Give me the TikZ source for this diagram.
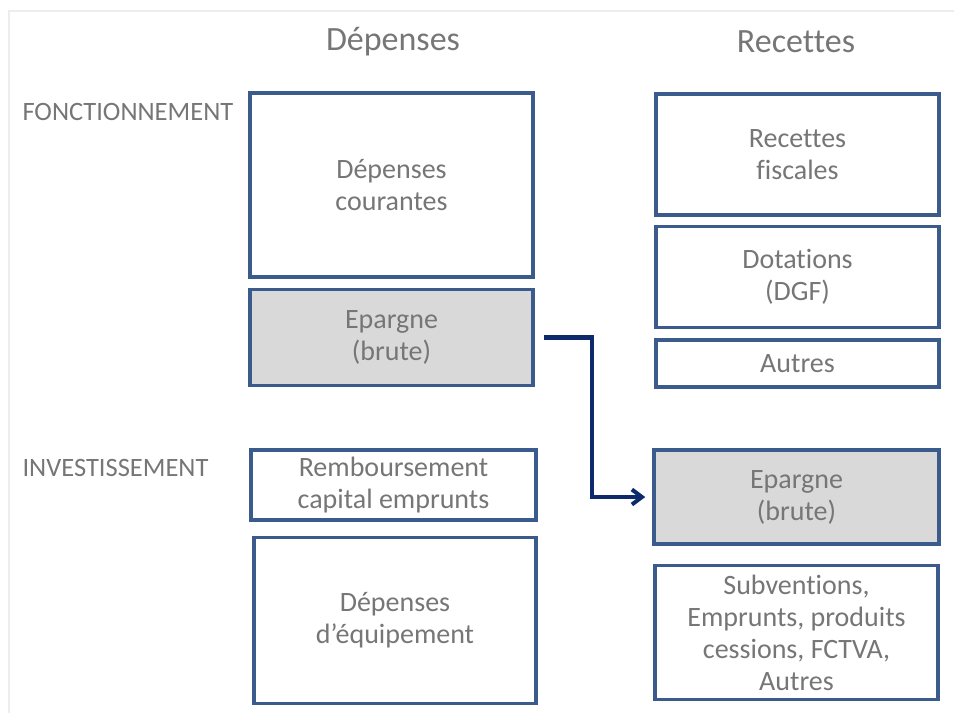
\documentclass[tikz,border=0pt]{standalone}
\usepackage{fontspec}
\setmainfont{Carlito}[Ligatures=NoCommon]
\usepackage{tikz}
\usetikzlibrary{arrows.meta,positioning}
\definecolor{bordure}{HTML}{3B5B8C}
\definecolor{fleuve}{HTML}{0D2A6B}
\definecolor{texte}{HTML}{767676}
\definecolor{grise}{HTML}{D9D9D9}

\begin{document}
\begin{tikzpicture}[
    x=1pt, y=-1pt,
    node distance=9pt,
    bloc/.style={draw=bordure, line width=3.5pt, fill=white, align=center, text=texte, font=\fontsize{28}{32}\selectfont, inner sep=0pt},
    titre/.style={text=texte, font=\fontsize{34}{40}\selectfont},
    section/.style={anchor=west, text=texte, font=\fontsize{26.5}{30}\selectfont},
    fleche/.style={-{Straight Barb[length=10pt, width=15pt, line width=4pt]}, line width=4.5pt, fleuve}
  ]
    \useasboundingbox (0,0) rectangle (954,713);
    \draw[black!7, line width=1.5pt] (9,713) -- (9,11) -- (954,11);

    \node[titre] (tdep) at (393,42) {Dépenses};
    \node[titre] (trec) at (796,42) {Recettes};
    \node[section] (sfonc) at (19,112) {FONCTIONNEMENT};
    \node[section] (sinv) at (19,468) {INVESTISSEMENT};

    % fonctionnement
    \node[bloc, minimum width=283pt, minimum height=184pt] (dc) at (391.5,185) {Dépenses\\courantes};
    \node[bloc, fill=grise, minimum width=283pt, minimum height=96pt, below=of dc] (epl) {Epargne\\(brute)};
    \node[bloc, minimum width=283pt, minimum height=121pt] (rf) at (797.5,154.5) {Recettes\\fiscales};
    \node[bloc, minimum width=283pt, minimum height=101pt, below=8pt of rf] (dot) {Dotations\\(DGF)};
    \node[bloc, minimum width=283pt, minimum height=47pt, below=of dot] (aut) {Autres};

    % investissement
    \node[bloc, minimum width=285pt, minimum height=70pt] (rmb) at (393.5,485) {Remboursement\\capital emprunts};
    \node[bloc, minimum width=282pt, minimum height=166pt, below=14pt of rmb, xshift=1.5pt] (equ) {Dépenses\\d’équipement};
    \node[bloc, fill=grise, minimum width=285pt, minimum height=94pt] (epr) at (796.5,497) {Epargne\\(brute)};
    \node[bloc, minimum width=283pt, minimum height=134pt, below=18pt of epr] (sub) {Subventions,\\Emprunts, produits\\cessions, FCTVA,\\Autres};

    \draw[fleche, shorten <=9pt, shorten >=7pt] (epl.east) -- ++(57,0) |- (epr.west);
  \end{tikzpicture}
\end{document}
